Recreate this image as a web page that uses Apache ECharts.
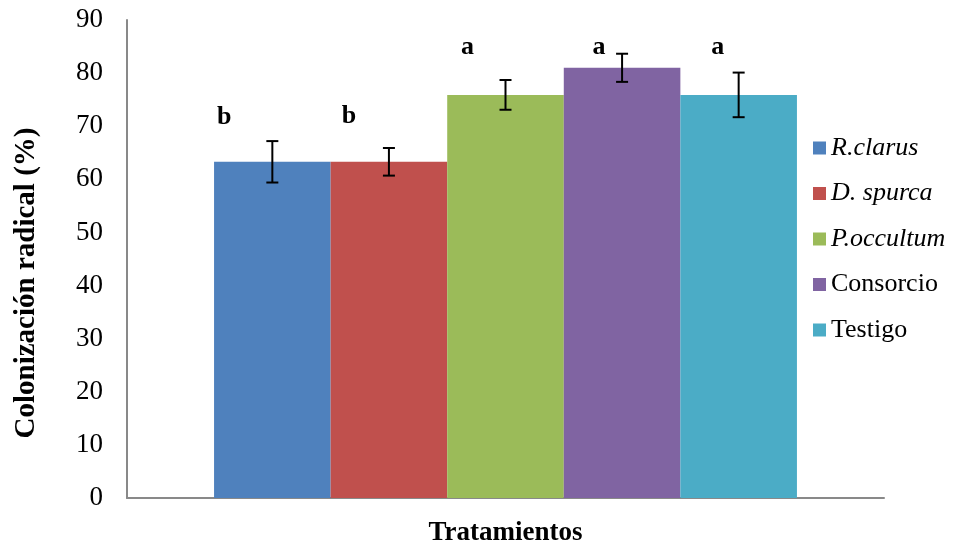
<!DOCTYPE html>
<html>
<head>
<meta charset="utf-8">
<script src="https://cdn.jsdelivr.net/npm/echarts@6/dist/echarts.min.js"></script>
<style>html,body{margin:0;padding:0;background:#fff}#c{width:954px;height:541px}</style>
</head>
<body>
<div id="c"></div>
<script>
const categories = ['Tratamientos'];
const seriesNames = ['R.clarus', 'D. spurca', 'P.occultum', 'Consorcio', 'Testigo'];
const means = [63.3, 63.3, 75.9, 81.0, 75.9];
const errors = [3.9, 2.6, 2.8, 2.65, 4.2];
const letters = ['b', 'b', 'a', 'a', 'a'];
const yTicks = [0, 10, 20, 30, 40, 50, 60, 70, 80, 90];

const colors = ['#4F81BD', '#C0504D', '#9BBB59', '#8064A2', '#4BACC6'];
const italic = [true, true, true, false, false];
const letterOffsets = [[-48, -27], [-40, -28], [-38, -30], [-23, -3], [-21, -30]];
const FONT = '"Liberation Serif", "Times New Roman", serif';
const GAP = 0.23;

const chart = echarts.init(document.getElementById('c'), null, {renderer: 'canvas'});

const barSeries = seriesNames.map((name, i) => ({
  name: name,
  type: 'bar',
  barGap: '0%',
  barCategoryGap: (GAP * 100) + '%',
  itemStyle: {color: colors[i]},
  data: [{
    value: means[i],
    label: {
      show: true,
      position: 'top',
      offset: letterOffsets[i],
      formatter: letters[i],
      fontFamily: FONT,
      fontWeight: 'bold',
      fontSize: 26,
      color: '#000'
    }
  }],
  z: 2
}));

const errSeries = {
  type: 'custom',
  name: 'err',
  z: 5,
  data: means.map((m, i) => [0, m, errors[i], i]),
  renderItem: function (params, api) {
    const cat = api.value(0);
    const m = api.value(1);
    const e = api.value(2);
    const idx = api.value(3);
    const n = seriesNames.length;
    const bandW = api.size([1, 0])[0];
    const groupW = bandW * (1 - GAP);
    const barW = groupW / n;
    const c = api.coord([cat, m]);
    const x = c[0] - groupW / 2 + (idx + 0.5) * barW;
    const yHi = api.coord([cat, m + e])[1];
    const yLo = api.coord([cat, m - e])[1];
    const cap = 6;
    const style = {stroke: '#000', lineWidth: 2};
    return {
      type: 'group',
      children: [
        {type: 'line', shape: {x1: x, y1: yHi, x2: x, y2: yLo}, style: style},
        {type: 'line', shape: {x1: x - cap, y1: yHi, x2: x + cap, y2: yHi}, style: style},
        {type: 'line', shape: {x1: x - cap, y1: yLo, x2: x + cap, y2: yLo}, style: style}
      ]
    };
  }
};

chart.setOption({
  animation: false,
  textStyle: {fontFamily: FONT},
  grid: {left: 127, right: 70, top: 20, bottom: 43, containLabel: false, outerBoundsMode: 'none'},
  legend: {
    orient: 'vertical',
    left: 808,
    top: 130,
    itemWidth: 13,
    itemHeight: 13,
    itemGap: 19.5,
    icon: 'rect',
    data: seriesNames.map((n, i) => ({
      name: n,
      textStyle: {fontStyle: italic[i] ? 'italic' : 'normal'}
    })),
    textStyle: {fontFamily: FONT, fontSize: 26, color: '#000', lineHeight: 26}
  },
  xAxis: {
    type: 'category',
    data: categories,
    name: 'Tratamientos',
    nameLocation: 'middle',
    nameGap: 22,
    nameTextStyle: {fontFamily: FONT, fontWeight: 'bold', fontSize: 27, color: '#000'},
    axisLine: {lineStyle: {color: '#898989', width: 2}},
    axisTick: {show: false},
    axisLabel: {show: false}
  },
  yAxis: {
    type: 'value',
    min: yTicks[0],
    max: yTicks[yTicks.length - 1],
    interval: yTicks[1] - yTicks[0],
    name: 'Colonización radical (%)',
    nameLocation: 'middle',
    nameGap: 86,
    nameTextStyle: {fontFamily: FONT, fontWeight: 'bold', fontSize: 29, color: '#000', padding: [0, 48, 0, 0]},
    axisLine: {show: true, lineStyle: {color: '#898989', width: 2}},
    axisTick: {show: false},
    splitLine: {show: false},
    axisLabel: {fontFamily: FONT, fontSize: 27, color: '#000', margin: 24}
  },
  series: barSeries.concat([errSeries])
});
</script>
</body>
</html>
